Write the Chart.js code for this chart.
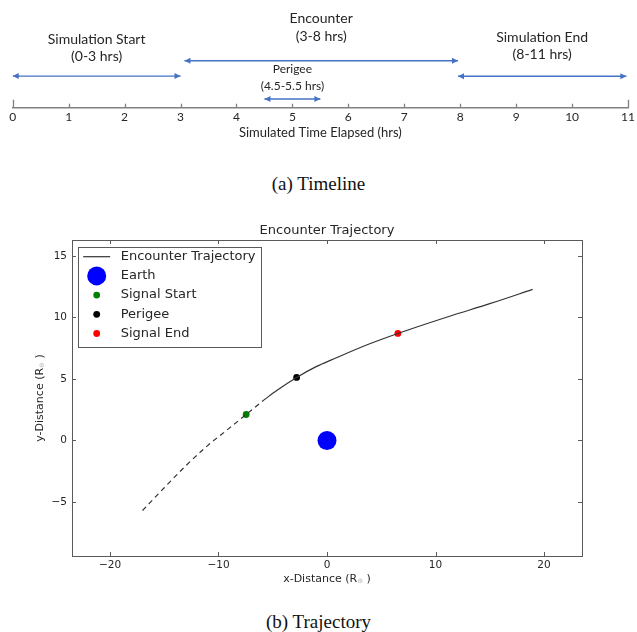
<!DOCTYPE html>
<html>
<head>
<meta charset="utf-8">
<title>Timeline and Encounter Trajectory</title>
<script src="https://cdn.jsdelivr.net/npm/chart.js@4.4.0/dist/chart.umd.min.js"></script>
<style>
  body { margin: 0; background: #fff; width: 637px; height: 632px; position: relative; overflow: hidden; }
  canvas { position: absolute; left: 0; }
  #timeline { top: 0; }
  #trajectory { top: 205px; }
  .caption { position: absolute; left: 0; width: 637px; text-align: center;
             font-family: "Liberation Serif", serif; font-size: 19px; color: #111; line-height: 20px; }
</style>
</head>
<body>
<canvas id="timeline" width="637" height="141"></canvas>
<div class="caption" style="top:174px">(a) Timeline</div>
<canvas id="trajectory" width="637" height="395"></canvas>
<div class="caption" style="top:612px">(b) Trajectory</div>

<script>
// --- timeline data (hours) ---
const hourTicks = [0, 1, 2, 3, 4, 5, 6, 7, 8, 9, 10, 11];
const phaseNames = ['Simulation Start', 'Encounter', 'Simulation End', 'Perigee'];
const phaseSpans = ['(0-3 hrs)', '(3-8 hrs)', '(8-11 hrs)', '(4.5-5.5 hrs)'];
const phaseFrom = [0, 3.07, 7.96, 4.5];
const phaseTo = [3, 7.96, 10.97, 5.5];

// --- trajectory data (Earth radii) ---
const xTicks = [-20, -10, 0, 10, 20];
const yTicks = [-5, 0, 5, 10, 15];
const approachX = [-17, -15, -13, -11, -9, -7.45, -5.8];
const approachY = [-5.7, -3.85, -2.05, -0.42, 1.0, 2.11, 3.3];
const encounterX = [-5.8, -4.6, -2.8, -1, 0.6, 3.7, 6.53, 11.3, 15, 18.95];
const encounterY = [3.3, 4.08, 5.12, 6.0, 6.62, 7.78, 8.7, 10.1, 11.12, 12.28];
const earthPos = [0, 0];
const signalStartPos = [-7.45, 2.11];
const perigeePos = [-2.8, 5.12];
const signalEndPos = [6.53, 8.7];

// vertical lanes of the timeline arrows (y scale units 0..10) and label offsets
const laneY = [2.94, 4.36, 2.92, 0.81];
const nameDy = [-37, -42.5, -39, -30];
const spanDy = [-19.5, -24.5, -21.5, -13];

const tlFont = 'Lato';
const mplFont = 'DejaVu Sans';

function drawHead(ctx, x, y, dir) {
  ctx.beginPath();
  ctx.moveTo(x, y);
  ctx.lineTo(x - dir * 6, y - 3);
  ctx.lineTo(x - dir * 6, y + 3);
  ctx.closePath();
  ctx.fill();
}

const timelineMarks = {
  id: 'timelineMarks',
  afterDatasetsDraw(chart) {
    const ctx = chart.ctx;
    const xs = chart.scales.x;
    const base = chart.chartArea.bottom;
    ctx.save();
    // ticks point up from the axis line
    ctx.strokeStyle = '#808080';
    ctx.lineWidth = 1.3;
    hourTicks.forEach((h, i) => {
      const px = Math.round(xs.getPixelForValue(h)) + 0.5;
      const len = (i === 0 || i === hourTicks.length - 1) ? 8 : 4;
      ctx.beginPath();
      ctx.moveTo(px, base);
      ctx.lineTo(px, base - len);
      ctx.stroke();
    });
    chart.data.datasets.forEach((ds, i) => {
      const pts = chart.getDatasetMeta(i).data;
      const a = pts[0], b = pts[1];
      ctx.fillStyle = ds.borderColor;
      drawHead(ctx, a.x, a.y, -1);
      drawHead(ctx, b.x, b.y, 1);
      const cx = (a.x + b.x) / 2;
      const size = i === 3 ? 12 : 14;
      ctx.fillStyle = '#262626';
      ctx.textAlign = 'center';
      ctx.textBaseline = 'middle';
      ctx.font = size + 'px ' + tlFont;
      ctx.fillText(phaseNames[i], cx, a.y + nameDy[i]);
      ctx.fillText(phaseSpans[i], cx, a.y + spanDy[i]);
    });
    ctx.restore();
  }
};

new Chart(document.getElementById('timeline'), {
  type: 'scatter',
  data: {
    datasets: phaseNames.map((name, i) => ({
      label: name,
      data: [{ x: phaseFrom[i], y: laneY[i] }, { x: phaseTo[i], y: laneY[i] }],
      showLine: true,
      borderColor: '#4472c4',
      borderWidth: 1.3,
      pointRadius: 0
    }))
  },
  options: {
    responsive: false,
    animation: false,
    layout: { padding: { left: 12.7, right: 8.3, top: 0, bottom: 0 } },
    plugins: { legend: { display: false }, tooltip: { enabled: false } },
    scales: {
      x: {
        type: 'linear', min: 0, max: 11, bounds: 'data',
        afterBuildTicks: s => { s.ticks = hourTicks.map(v => ({ value: v })); },
        afterFit: s => { s.height = 33.3; },
        grid: { display: false, drawTicks: false },
        border: { display: true, color: '#808080', width: 1.5 },
        ticks: { padding: 2, color: '#262626', font: { family: tlFont, size: 12 } },
        title: { display: true, text: 'Simulated Time Elapsed (hrs)', color: '#262626',
                 font: { family: tlFont, size: 13 }, padding: { top: 0, bottom: 0 } }
      },
      y: { type: 'linear', min: 0, max: 10, display: false }
    }
  },
  plugins: [timelineMarks]
});

// --- trajectory chart ---
function fmtTick(v) { return v < 0 ? '\u2212' + Math.abs(v) : String(v); }

function drawParts(ctx, parts, cx, cy) {
  let total = 0;
  parts.forEach(p => { ctx.font = p.font; p.w = ctx.measureText(p.t).width; total += p.w; });
  let x = cx - total / 2;
  parts.forEach(p => {
    ctx.font = p.font;
    ctx.fillStyle = p.color;
    ctx.fillText(p.t, x, cy + p.dy);
    x += p.w;
  });
}

function axisLabel(prefix) {
  return [
    { t: prefix + '-Distance (R', font: '11px ' + mplFont, color: '#262626', dy: 0 },
    { t: '\u2295', font: '7px ' + mplFont, color: '#c0c0c0', dy: 2.5 },
    { t: ' )', font: '11px ' + mplFont, color: '#262626', dy: 0 }
  ];
}

const frameAndLegend = {
  id: 'frameAndLegend',
  afterDraw(chart) {
    const ctx = chart.ctx;
    const area = chart.chartArea;
    const xs = chart.scales.x, ys = chart.scales.y;
    ctx.save();
    // frame with inward ticks on all four sides
    ctx.strokeStyle = '#5a5a5a';
    ctx.lineWidth = 1;
    ctx.strokeRect(Math.round(area.left) + 0.5, Math.round(area.top) + 0.5,
                   Math.round(area.right - area.left), Math.round(area.bottom - area.top));
    ctx.beginPath();
    xTicks.forEach(v => {
      const px = Math.round(xs.getPixelForValue(v)) + 0.5;
      ctx.moveTo(px, area.bottom); ctx.lineTo(px, area.bottom - 4);
      ctx.moveTo(px, area.top); ctx.lineTo(px, area.top + 4);
    });
    yTicks.forEach(v => {
      const py = Math.round(ys.getPixelForValue(v)) + 0.5;
      ctx.moveTo(area.left, py); ctx.lineTo(area.left + 4, py);
      ctx.moveTo(area.right, py); ctx.lineTo(area.right - 4, py);
    });
    ctx.stroke();

    // title and axis labels
    ctx.textBaseline = 'middle';
    ctx.textAlign = 'center';
    ctx.fillStyle = '#262626';
    ctx.font = '13px ' + mplFont;
    const midX = (area.left + area.right) / 2;
    const midY = (area.top + area.bottom) / 2;
    ctx.fillText('Encounter Trajectory', midX, area.top - 9);
    ctx.textAlign = 'left';
    drawParts(ctx, axisLabel('x'), midX, area.bottom + 23);
    ctx.save();
    ctx.translate(40, midY);
    ctx.rotate(-Math.PI / 2);
    drawParts(ctx, axisLabel('y'), 0, 0);
    ctx.restore();

    // legend box in the upper left of the axes
    const entries = [0, 2, 3, 4, 5];
    const left = area.left + 6, top = area.top + 6.5;
    ctx.font = '13px ' + mplFont;
    const textW = Math.max(...entries.map(i => ctx.measureText(chart.data.datasets[i].label).width));
    const boxW = 42.7 + textW + 6, boxH = 99.5;
    ctx.fillStyle = '#fff';
    ctx.fillRect(left, top, boxW, boxH);
    ctx.strokeStyle = '#5a5a5a';
    ctx.strokeRect(Math.round(left) + 0.5, Math.round(top) + 0.5, Math.round(boxW), Math.round(boxH));
    entries.forEach((di, row) => {
      const ds = chart.data.datasets[di];
      const cy = top + 10.2 + row * 19.2;
      const hx = left + 18.7;
      if (ds.showLine) {
        ctx.strokeStyle = ds.borderColor;
        ctx.lineWidth = ds.borderWidth;
        ctx.beginPath(); ctx.moveTo(hx - 13.5, cy); ctx.lineTo(hx + 13.5, cy); ctx.stroke();
      } else {
        ctx.fillStyle = ds.backgroundColor;
        ctx.beginPath(); ctx.arc(hx, cy, ds.pointRadius, 0, Math.PI * 2); ctx.fill();
      }
      ctx.fillStyle = '#262626';
      ctx.textAlign = 'left';
      ctx.fillText(ds.label, left + 42.7, cy);
    });
    ctx.restore();
  }
};

const pointSet = (label, pos, color, r) => ({
  label: label,
  data: [{ x: pos[0], y: pos[1] }],
  backgroundColor: color,
  borderColor: color,
  borderWidth: 0,
  pointRadius: r
});

new Chart(document.getElementById('trajectory'), {
  type: 'scatter',
  data: {
    datasets: [
      {
        label: 'Encounter Trajectory',
        data: encounterX.map((x, i) => ({ x: x, y: encounterY[i] })),
        showLine: true, borderColor: '#333333', borderWidth: 1.2,
        pointRadius: 0, cubicInterpolationMode: 'monotone'
      },
      {
        label: 'Approach',
        data: approachX.map((x, i) => ({ x: x, y: approachY[i] })),
        showLine: true, borderColor: '#333333', borderWidth: 1.2, borderDash: [5, 4],
        pointRadius: 0, cubicInterpolationMode: 'monotone'
      },
      pointSet('Earth', earthPos, '#0000ff', 9.5),
      pointSet('Signal Start', signalStartPos, '#007f00', 3.4),
      pointSet('Perigee', perigeePos, '#000000', 3.4),
      pointSet('Signal End', signalEndPos, '#ff0000', 3.4)
    ]
  },
  options: {
    responsive: false,
    animation: false,
    layout: { padding: { left: 0, right: 55, top: 35, bottom: 0 } },
    plugins: { legend: { display: false }, tooltip: { enabled: false } },
    scales: {
      x: {
        type: 'linear', min: -23.5, max: 23.5, bounds: 'data',
        afterBuildTicks: s => { s.ticks = xTicks.map(v => ({ value: v })); },
        afterFit: s => { s.height = 44; },
        grid: { display: false, drawTicks: false },
        border: { display: false },
        ticks: { padding: 3, color: '#262626', font: { family: mplFont, size: 10.5 }, callback: fmtTick }
      },
      y: {
        type: 'linear', min: -9.4, max: 16.3, bounds: 'data',
        afterBuildTicks: s => { s.ticks = yTicks.map(v => ({ value: v })); },
        afterFit: s => { s.width = 72; },
        grid: { display: false, drawTicks: false },
        border: { display: false },
        ticks: { padding: 5, color: '#262626', font: { family: mplFont, size: 10.5 }, callback: fmtTick }
      }
    }
  },
  plugins: [frameAndLegend]
});
</script>
</body>
</html>
